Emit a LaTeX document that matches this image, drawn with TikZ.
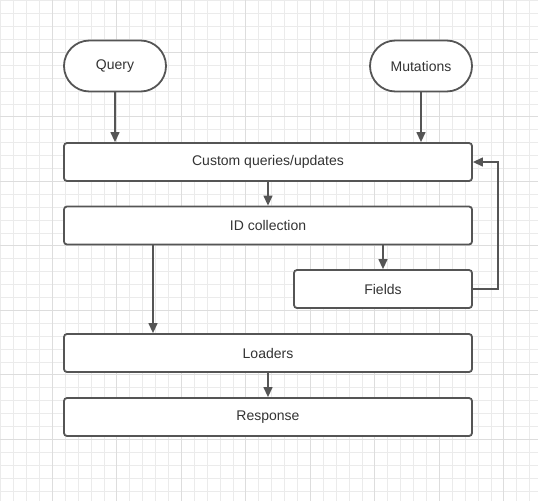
\documentclass[tikz,border=0pt]{standalone}
\usepackage{fontspec}
\setmainfont{Liberation Sans}
\usetikzlibrary{arrows.meta,shapes.misc}
\definecolor{lineg}{HTML}{555555}
\definecolor{textg}{HTML}{333333}
\definecolor{gridminor}{HTML}{EBEBEB}
\definecolor{gridmajor}{HTML}{DDDDDD}
\begin{document}
\begin{tikzpicture}[x=1pt,y=-1pt,
  box/.style={draw=lineg,line width=1.8pt,rounded corners=3pt,fill=white,
    text=textg,font=\fontsize{14}{16}\selectfont,inner sep=0pt},
  pill/.style={draw=lineg,line width=1.8pt,rounded rectangle,fill=white,
    text=textg,font=\fontsize{14}{16}\selectfont,inner sep=0pt,
    minimum width=102pt,minimum height=51pt},
  conn/.style={draw=lineg,line width=1.3pt,-{Triangle[length=10pt,width=9pt]}}]
\useasboundingbox (0,0) rectangle (538,501);
\fill[white] (0,0) rectangle (538,501);
\foreach \i in {0,...,41}{
  \draw[gridminor,line width=0.8pt] (0.7+12.9*\i,0) -- (0.7+12.9*\i,501);
  \draw[gridminor,line width=0.8pt] (0,0.7+12.9*\i) -- (538,0.7+12.9*\i);
}
\foreach \i in {4,9,...,39}{
  \draw[gridmajor,line width=0.9pt] (0.7+12.9*\i,0) -- (0.7+12.9*\i,501);
  \draw[gridmajor,line width=0.9pt] (0,0.7+12.9*\i) -- (538,0.7+12.9*\i);
}
\node[pill] (query) at (115,66) {Query};
\node[pill] (mut) at (421,66) {Mutations};
\node[box,minimum width=408pt,minimum height=38pt] (custom) at (268,162) {Custom queries/updates};
\node[box,minimum width=408pt,minimum height=38pt] (idc) at (268,225.5) {ID collection};
\node[box,minimum width=178pt,minimum height=38pt] (fields) at (383,289) {Fields};
\node[box,minimum width=408pt,minimum height=38pt] (load) at (268,353) {Loaders};
\node[box,minimum width=408pt,minimum height=38pt] (resp) at (268,417) {Response};
\coordinate (c1) at (498,289);
\coordinate (c2) at (498,162);
\draw[conn] (query.south) -- (query.south |- custom.north);
\draw[conn] (mut.south) -- (mut.south |- custom.north);
\draw[conn] (custom) -- (idc);
\draw[conn] (idc.south -| fields.north) -- (fields.north);
\draw[conn] (idc.south -| 153,0) -- (load.north -| 153,0);
\draw[conn] (load) -- (resp);
\draw[conn] (fields.east) -- (c1) -- (c2) -- (custom.east);
\end{tikzpicture}
\end{document}
